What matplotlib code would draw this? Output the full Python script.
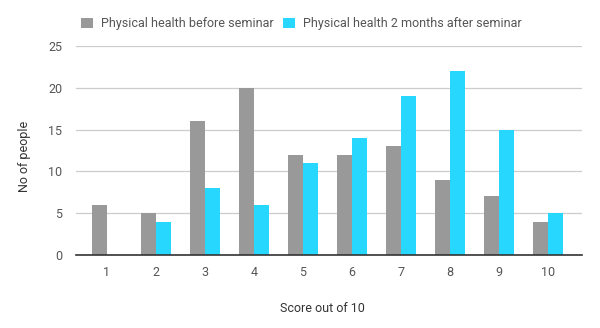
import matplotlib

matplotlib.use("Agg")

import matplotlib.pyplot as plt
import numpy as np

scores = [1, 2, 3, 4, 5, 6, 7, 8, 9, 10]
before_seminar = [6, 5, 16, 20, 12, 12, 13, 9, 7, 4]
after_seminar = [0, 4, 8, 6, 11, 14, 19, 22, 15, 5]
y_ticks = [0, 5, 10, 15, 20, 25]

GREY = "#999999"
CYAN = "#27d7fd"
TEXT = "#555555"

plt.rcParams["font.family"] = ["Roboto", "DejaVu Sans"]

fig = plt.figure(figsize=(6.0, 3.28), dpi=100)
ax = fig.add_axes([76 / 600, 1 - 255 / 328, 506 / 600, 209 / 328])

x = np.array(scores, dtype=float)
width = 0.305
ax.bar(x - width / 2 - 0.005, before_seminar, width, color=GREY,
       label="Physical health before seminar", zorder=3)
ax.bar(x + width / 2 + 0.005, after_seminar, width, color=CYAN,
       label="Physical health 2 months after seminar", zorder=3)

ax.set_xlim(1 - 31 / 49, 10 + 34 / 49)
ax.set_ylim(0, 25)
ax.set_yticks(y_ticks)
ax.set_xticks(scores)
ax.grid(axis="y", color="#cccccc", linewidth=0.9, zorder=0)
for side in ("top", "right", "left"):
    ax.spines[side].set_visible(False)
ax.spines["bottom"].set_color("#333333")
ax.spines["bottom"].set_linewidth(1.2)
ax.spines["bottom"].set_zorder(4)
ax.tick_params(axis="both", length=0, labelsize=9, labelcolor=TEXT)
ax.tick_params(axis="x", pad=8)
ax.tick_params(axis="y", pad=10)

ax.set_xlabel("Score out of 10", fontsize=9, color="#333333")
ax.xaxis.set_label_coords((322 - 76) / 506, -(302 - 255) / 209)
ax.set_ylabel("No of people", fontsize=9, color="#333333")
ax.yaxis.set_label_coords(-(76 - 31) / 506, (255 - 156) / 209)

fig.legend(
    loc="upper left",
    bbox_to_anchor=(70 / 600, 1 - 6 / 328),
    ncol=2,
    frameon=False,
    fontsize=9,
    handlelength=0.95,
    handleheight=0.95,
    handletextpad=0.6,
    columnspacing=0.8,
    labelcolor=TEXT,
)

fig.savefig("out.png", dpi=100)
